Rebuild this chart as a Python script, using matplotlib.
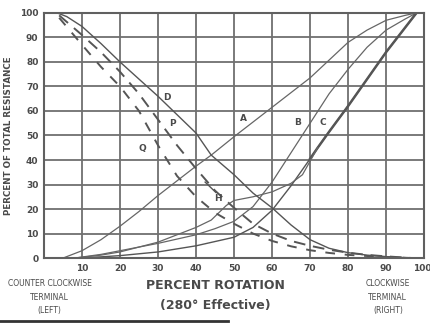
from matplotlib import pyplot as plt
from matplotlib.lines import Line2D
from matplotlib.transforms import ScaledTranslation

# curve data (percent rotation -> percent of total resistance)
a_x = [5, 10, 15, 20, 25, 30, 35, 40, 44, 50, 60, 70, 80, 85, 90, 95, 98]
a_y = [0, 3, 7.5, 13, 19, 25.5, 31.5, 37.5, 42, 49.5, 61.5, 73.5, 88, 93, 97, 99, 100]

b_x = [8, 15, 20, 30, 40, 45, 50, 55, 60, 65, 70, 75, 80, 85, 90, 95, 98]
b_y = [0, 1.5, 3, 6, 9.5, 12, 15, 21, 31, 43, 55, 67, 77, 86, 93, 97.5, 100]

c_x = [8, 15, 20, 30, 40, 50, 55, 60, 65, 70, 72, 75, 80, 85, 90, 93, 95, 98]
c_y = [0, 0.5, 1, 2.5, 5, 8.5, 12.5, 19.5, 29.5, 40.5, 45, 51.5, 62, 73, 84, 90, 94, 100]

h_x = [8, 15, 20, 30, 40, 44, 46, 48, 50, 55, 60, 65, 68, 72]
h_y = [0, 1.2, 2.5, 6.5, 12.5, 15.5, 18.5, 21.5, 23.5, 25, 27, 30.5, 34, 45]

d_x = [3.5, 6, 10, 15, 20, 25, 30, 35, 40, 44, 50, 55, 60, 65, 70, 75, 80, 85, 90, 97]
d_y = [100, 98.5, 94.5, 87.5, 80, 73, 66, 58.5, 51, 42, 34, 26.5, 20.5, 13.5, 7.5, 4, 2.2, 1.2, 0.6, 0]

p_x = [4, 10, 15, 20, 25, 30, 35, 40, 45, 50, 55, 60, 65, 70, 75, 80, 85, 90, 97]
p_y = [99, 91, 84, 76, 67, 56.5, 46, 36.5, 27.5, 20.5, 14, 10, 7, 5, 3.4, 2.2, 1.3, 0.7, 0]

q_x = [4, 10, 15, 20, 25, 30, 35, 40, 45, 50, 55, 60, 65, 70, 75, 80, 90, 97]
q_y = [98, 87, 78, 70, 60, 46, 33.5, 25, 18.5, 14, 10, 7, 4.8, 3.2, 2.1, 1.3, 0.4, 0]

curve_labels = ["D", "P", "Q", "A", "B", "C", "H"]
label_pos = [(32.4, 65.7), (33.7, 54.7), (25.8, 44.9), (52.4, 57.1),
             (66.8, 55.5), (73.4, 55.5), (45.8, 24.5)]

x_ticks = [10, 20, 30, 40, 50, 60, 70, 80, 90, 100]
y_ticks = [0, 10, 20, 30, 40, 50, 60, 70, 80, 90, 100]

ink = '#4a4a4a'
plt.rcParams['font.family'] = ['DejaVu Sans']

fig = plt.figure(figsize=(4.31, 3.23), dpi=100)
ax = fig.add_axes([0.102, 0.201, 0.882, 0.759])

ax.plot(a_x, a_y, color='#666666', lw=0.9)
ax.plot(b_x, b_y, color='#666666', lw=0.9)
ax.plot(c_x, c_y, color='#555555', lw=1.0)
ax.plot(c_x[9:], c_y[9:], color='#555555', lw=1.8)
ax.plot(h_x, h_y, color='#666666', lw=0.9)
ax.plot(d_x, d_y, color='#555555', lw=1.0)
ax.plot(p_x, p_y, color='#555555', lw=1.4, dashes=(6, 4))
ax.plot(q_x, q_y, color='#555555', lw=1.4, dashes=(5, 5))
ax.plot([42.4, 45.2], [31, 26.8], color='#555555', lw=1.0)

for lab, (lx, ly) in zip(curve_labels, label_pos):
    ax.text(lx, ly, lab, fontsize=6.5, fontweight='bold', color=ink,
            ha='center', va='center')

ax.set_xlim(0, 100)
ax.set_ylim(0, 100)
ax.set_xticks(x_ticks)
ax.set_yticks(y_ticks)
ax.grid(True, color='#707070', lw=1.3)
ax.set_axisbelow(True)
for s in ax.spines.values():
    s.set_color('#606060')
    s.set_linewidth(1.5)
ax.tick_params(length=0, labelsize=6.5, colors=ink, pad=4)
for t in ax.get_xticklabels() + ax.get_yticklabels():
    t.set_fontweight('bold')
# keep the last "100" inside the picture
last = ax.get_xticklabels()[-1]
last.set_horizontalalignment('right')
last.set_transform(last.get_transform() + ScaledTranslation(5 / 72, 0, fig.dpi_scale_trans))

ax.set_ylabel("PERCENT OF TOTAL RESISTANCE", fontsize=6.3, fontweight='bold',
              color=ink, labelpad=5)
fig.text(0.5, 0.115, "PERCENT ROTATION", fontsize=9, fontweight='bold',
         color=ink, ha='center', va='center')
fig.text(0.5, 0.055, "(280\u00b0 Effective)", fontsize=9, fontweight='bold',
         color=ink, ha='center', va='center')
fig.text(0.115, 0.08, "COUNTER CLOCKWISE\nTERMINAL\n(LEFT)", fontsize=5.5,
         color=ink, ha='center', va='center', linespacing=1.6)
fig.text(0.9, 0.08, "CLOCKWISE\nTERMINAL\n(RIGHT)", fontsize=5.5,
         color=ink, ha='center', va='center', linespacing=1.6)

# dark scan edge along the bottom
fig.add_artist(Line2D([0, 0.53], [0.006, 0.006], color='#333333', lw=2))

fig.savefig("out.png", dpi=100)
